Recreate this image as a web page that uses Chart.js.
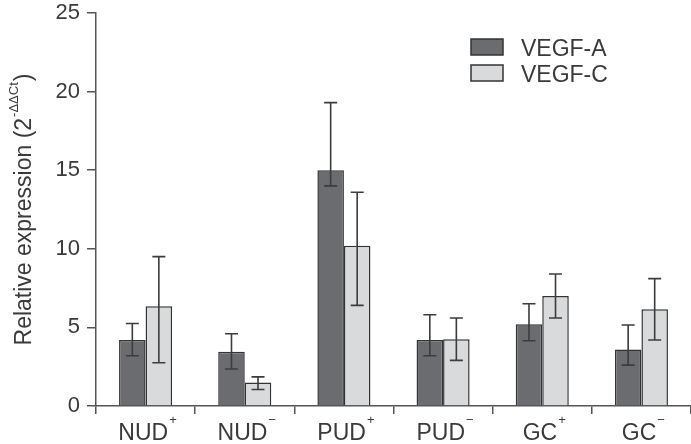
<!DOCTYPE html>
<html>
<head>
<meta charset="utf-8">
<script src="https://cdn.jsdelivr.net/npm/chart.js@4"></script>
<style>
  html, body { margin: 0; padding: 0; background: #fff; }
  #wrap { width: 691px; height: 444px; }
</style>
</head>
<body>
<div id="wrap"><canvas id="barChart"></canvas></div>
<script>
// groups and their +/- superscripts
var groups = ['NUD', 'NUD', 'PUD', 'PUD', 'GC', 'GC'];
var signs = ['+', '\u2212', '+', '\u2212', '+', '\u2212'];

// VEGF-A mean and error bar ends
var vegfA = [4.2, 3.45, 15.0, 4.2, 5.2, 3.6];
var vegfAHigh = [5.25, 4.6, 19.3, 5.8, 6.5, 5.15];
var vegfALow = [3.2, 2.35, 14.0, 3.2, 4.15, 2.6];

// VEGF-C mean and error bar ends
var vegfC = [6.35, 1.5, 10.2, 4.25, 7.0, 6.15];
var vegfCHigh = [9.5, 1.85, 13.6, 5.6, 8.4, 8.1];
var vegfCLow = [2.75, 1.05, 6.4, 2.9, 5.6, 4.2];

var yTicks = [0, 5, 10, 15, 20, 25];

var textColor = '#3a3a3a';
var lineColor = '#555';
var fontFamily = '"Liberation Sans", Arial, sans-serif';

var labels = groups.map(function (g, i) { return g + signs[i]; });

// error bars, drawn through the scales
var errorBars = {
    id: 'errorBars',
    afterDatasetsDraw: function (chart) {
        var ctx = chart.ctx;
        var y = chart.scales.y;
        var ends = [[vegfAHigh, vegfALow], [vegfCHigh, vegfCLow]];
        ctx.save();
        ctx.strokeStyle = '#3c3c3c';
        ctx.lineWidth = 1.6;
        ends.forEach(function (e, d) {
            chart.getDatasetMeta(d).data.forEach(function (bar, i) {
                var x = bar.x;
                var top = y.getPixelForValue(e[0][i]);
                var bot = y.getPixelForValue(e[1][i]);
                ctx.beginPath();
                ctx.moveTo(x, top); ctx.lineTo(x, bot);
                ctx.moveTo(x - 6.5, top); ctx.lineTo(x + 6.5, top);
                ctx.moveTo(x - 6.5, bot); ctx.lineTo(x + 6.5, bot);
                ctx.stroke();
            });
        });
        ctx.restore();
    }
};

// x labels with superscripts, y title, legend
var extras = {
    id: 'extras',
    afterDraw: function (chart) {
        var ctx = chart.ctx;
        var xs = chart.scales.x;
        var area = chart.chartArea;
        ctx.save();
        ctx.fillStyle = textColor;
        ctx.textBaseline = 'alphabetic';
        ctx.textAlign = 'left';

        // category labels
        groups.forEach(function (g, i) {
            var cx = xs.getPixelForValue(i);
            ctx.font = '23px ' + fontFamily;
            var w1 = ctx.measureText(g).width;
            ctx.font = '13px ' + fontFamily;
            var w2 = ctx.measureText(signs[i]).width;
            var start = cx - (w1 + w2 + 1) / 2 + 2;
            ctx.font = '23px ' + fontFamily;
            ctx.fillText(g, start, 440);
            ctx.font = '13px ' + fontFamily;
            ctx.fillText(signs[i], start + w1 + 1, 424);
        });

        // y axis title
        ctx.translate(31, (area.top + area.bottom) / 2);
        ctx.rotate(-Math.PI / 2);
        var main = 'Relative expression (2';
        var sup = '-\u0394\u0394Ct';
        ctx.font = '23px ' + fontFamily;
        var a = ctx.measureText(main).width;
        var c = ctx.measureText(')').width;
        ctx.font = '13px ' + fontFamily;
        var b = ctx.measureText(sup).width;
        var sx = -(a + b + c + 2) / 2;
        ctx.font = '23px ' + fontFamily;
        ctx.fillText(main, sx, 0);
        ctx.font = '13px ' + fontFamily;
        ctx.fillText(sup, sx + a + 1, -13);
        ctx.font = '23px ' + fontFamily;
        ctx.fillText(')', sx + a + b + 2, 0);
        ctx.restore();

        // legend
        ctx.save();
        chart.data.datasets.forEach(function (ds, d) {
            var by = 39 + d * 26;
            ctx.fillStyle = ds.backgroundColor;
            ctx.strokeStyle = '#333';
            ctx.lineWidth = 1.5;
            ctx.fillRect(471, by, 32, 16);
            ctx.strokeRect(471, by, 32, 16);
            ctx.fillStyle = textColor;
            ctx.font = '23px ' + fontFamily;
            ctx.textAlign = 'left';
            ctx.textBaseline = 'alphabetic';
            ctx.fillText(ds.label, 521, by + 16.5);
        });
        ctx.restore();
    }
};

var ctx1 = document.getElementById('barChart').getContext('2d');
var barChart = new Chart(ctx1, {
    type: 'bar',
    data: {
        labels: labels,
        datasets: [{
            label: 'VEGF-A',
            data: vegfA,
            backgroundColor: '#6b6c70',
            borderColor: '#333',
            borderWidth: 1.5
        }, {
            label: 'VEGF-C',
            data: vegfC,
            backgroundColor: '#d9dadc',
            borderColor: '#333',
            borderWidth: 1.5
        }]
    },
    options: {
        responsive: true,
        maintainAspectRatio: false,
        animation: false,
        categoryPercentage: 0.535,
        barPercentage: 1,
        layout: { padding: { top: 0, right: 0, left: 0, bottom: 0 } },
        plugins: {
            legend: { display: false },
            tooltip: { enabled: false }
        },
        scales: {
            x: {
                grid: { drawOnChartArea: false, tickLength: 8, color: lineColor, lineWidth: 1.5 },
                border: { color: lineColor, width: 1.5 },
                ticks: { callback: function () { return ''; } },
                afterFit: function (scale) { scale.height = 38; }
            },
            y: {
                min: 0,
                max: 25,
                afterBuildTicks: function (scale) {
                    scale.ticks = yTicks.map(function (v) { return { value: v }; });
                },
                grid: { drawOnChartArea: false, tickLength: 9, color: lineColor, lineWidth: 1.5 },
                border: { color: lineColor, width: 1.5 },
                ticks: {
                    padding: 7,
                    color: textColor,
                    font: { size: 22, family: fontFamily }
                },
                afterFit: function (scale) {
                    scale.width = 96;
                    scale.paddingTop = 13;
                    scale.paddingBottom = 0;
                }
            }
        }
    },
    plugins: [errorBars, extras]
});
</script>
</body>
</html>
